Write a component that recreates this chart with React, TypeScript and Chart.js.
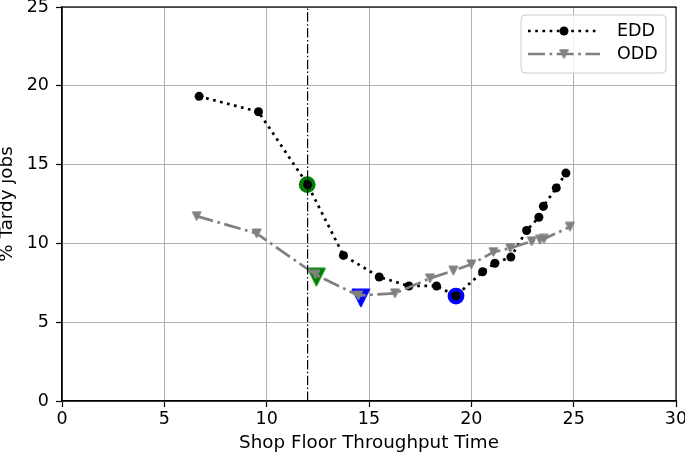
import React, { useEffect, useRef } from 'react';
import { Chart, registerables } from 'chart.js';
Chart.register(...registerables);

// ---- data ----
const seriesNames = ['EDD', 'ODD'];
const eddX = [6.7, 9.6, 12.0, 13.75, 15.5, 16.95, 18.3, 19.25, 20.55, 21.15, 21.93, 22.7, 23.3, 23.52, 24.15, 24.62];
const eddY = [19.33, 18.35, 13.73, 9.24, 7.87, 7.3, 7.3, 6.67, 8.2, 8.74, 9.13, 10.82, 11.66, 12.36, 13.52, 14.46];
const oddX = [6.58, 9.51, 12.38, 14.48, 16.27, 17.98, 19.12, 20.0, 21.08, 21.9, 22.95, 23.35, 23.55, 24.82];
const oddY = [11.73, 10.63, 8.02, 6.69, 6.83, 7.78, 8.27, 8.67, 9.45, 9.7, 10.13, 10.23, 10.28, 11.05];
const hlCircleX = [11.98, 19.25];
const hlCircleY = [13.73, 6.66];
const hlTriX = [12.43, 14.6];
const hlTriY = [7.86, 6.53];
const hlColors = ['#008000', '#0000ff'];
const refLineX = 12;
const xTicks = [0, 5, 10, 15, 20, 25, 30];
const yTicks = [0, 5, 10, 15, 20, 25];
const xTitle = 'Shop Floor Throughput Time';
const yTitle = '% Tardy jobs';

const FONT = "'DejaVu Sans', 'Liberation Sans', sans-serif";
const FS = 17.5;
const FT = 18.3;
const GRAY = '#808080';
const EDD_DASH = [2.7, 4.5];
const ODD_DASH = [17, 4.5, 2.7, 4.5];

function makeTri(size: number, color: string) {
  const c = document.createElement('canvas');
  const pad = 1;
  const s = Math.ceil(size + 2 * pad);
  c.width = s;
  c.height = s;
  const ctx = c.getContext('2d')!;
  const o = (s - size) / 2;
  ctx.fillStyle = color;
  ctx.strokeStyle = color;
  ctx.lineWidth = 1;
  ctx.beginPath();
  ctx.moveTo(o, o);
  ctx.lineTo(o + size, o);
  ctx.lineTo(o + size / 2, o + size);
  ctx.closePath();
  ctx.fill();
  ctx.stroke();
  return c;
}

export default function App() {
  const ref = useRef<HTMLCanvasElement>(null);
  useEffect(() => {
    document.body.style.margin = '0';
    const grayTri = makeTri(9, GRAY);
    const hlTris = hlColors.map((c) => makeTri(18, c));

    const decor = {
      id: 'decor',
      afterDatasetsDraw(chart: any) {
        const { ctx, chartArea: a, scales } = chart;
        const x = scales.x;
        // reference vertical line
        ctx.save();
        ctx.beginPath();
        ctx.rect(a.left, a.top, a.width, a.height);
        ctx.clip();
        const px = x.getPixelForValue(refLineX);
        ctx.setLineDash([9.5, 2.4, 1.5, 2.4]);
        ctx.lineWidth = 1.2;
        ctx.strokeStyle = '#000';
        ctx.beginPath();
        ctx.moveTo(px, a.bottom);
        ctx.lineTo(px, a.top);
        ctx.stroke();
        ctx.restore();
        // frame
        ctx.save();
        ctx.strokeStyle = '#000';
        ctx.lineWidth = 1.2;
        ctx.strokeRect(a.left, a.top, a.width, a.height);
        ctx.restore();
        // legend
        const bw = 145, bh = 58;
        const bx = a.right - 10 - bw;
        const by = a.top + 8;
        ctx.save();
        ctx.beginPath();
        const r = 4;
        ctx.moveTo(bx + r, by);
        ctx.lineTo(bx + bw - r, by);
        ctx.arcTo(bx + bw, by, bx + bw, by + r, r);
        ctx.lineTo(bx + bw, by + bh - r);
        ctx.arcTo(bx + bw, by + bh, bx + bw - r, by + bh, r);
        ctx.lineTo(bx + r, by + bh);
        ctx.arcTo(bx, by + bh, bx, by + bh - r, r);
        ctx.lineTo(bx, by + r);
        ctx.arcTo(bx, by, bx + r, by, r);
        ctx.closePath();
        ctx.fillStyle = 'rgba(255,255,255,0.8)';
        ctx.fill();
        ctx.strokeStyle = '#cccccc';
        ctx.lineWidth = 1;
        ctx.stroke();
        const rows = [by + 16, by + 39];
        const lx0 = bx + 7, lx1 = bx + 79, lm = (lx0 + lx1) / 2;
        // EDD
        ctx.strokeStyle = '#000';
        ctx.lineWidth = 2.7;
        ctx.setLineDash(EDD_DASH);
        ctx.beginPath();
        ctx.moveTo(lx0, rows[0]);
        ctx.lineTo(lx1, rows[0]);
        ctx.stroke();
        ctx.setLineDash([]);
        ctx.fillStyle = '#000';
        ctx.beginPath();
        ctx.arc(lm, rows[0], 4.5, 0, Math.PI * 2);
        ctx.fill();
        // ODD
        ctx.strokeStyle = GRAY;
        ctx.setLineDash(ODD_DASH);
        ctx.beginPath();
        ctx.moveTo(lx0, rows[1]);
        ctx.lineTo(lx1, rows[1]);
        ctx.stroke();
        ctx.setLineDash([]);
        ctx.drawImage(grayTri, lm - grayTri.width / 2, rows[1] - grayTri.height / 2);
        ctx.fillStyle = '#000';
        ctx.font = `${FS}px ${FONT}`;
        ctx.textBaseline = 'middle';
        ctx.textAlign = 'left';
        ctx.fillText(seriesNames[0], bx + 96, rows[0]);
        ctx.fillText(seriesNames[1], bx + 96, rows[1]);
        ctx.restore();
      },
    };

    const chart = new Chart(ref.current!, {
      type: 'scatter',
      data: {
        datasets: [
          {
            label: seriesNames[1],
            data: oddX.map((v, i) => ({ x: v, y: oddY[i] })),
            showLine: true,
            borderColor: GRAY,
            borderWidth: 2.7,
            borderDash: ODD_DASH,
            pointStyle: grayTri as any,
            pointRadius: 5,
            order: 0,
          },
          {
            label: seriesNames[0],
            data: eddX.map((v, i) => ({ x: v, y: eddY[i] })),
            showLine: true,
            borderColor: '#000',
            borderWidth: 2.7,
            borderDash: EDD_DASH,
            pointStyle: 'circle',
            pointRadius: 4.5,
            pointBorderWidth: 0,
            pointBackgroundColor: '#000',
            order: 1,
          },
          {
            label: 'hlTri',
            data: hlTriX.map((v, i) => ({ x: v, y: hlTriY[i] })),
            showLine: false,
            pointStyle: hlTris as any,
            pointRadius: 10,
            order: 2,
          },
          {
            label: 'hlCircle',
            data: hlCircleX.map((v, i) => ({ x: v, y: hlCircleY[i] })),
            showLine: false,
            pointStyle: 'circle',
            pointRadius: 8.4,
            pointBorderWidth: 0,
            pointBackgroundColor: hlColors,
            order: 3,
          },
        ],
      },
      options: {
        animation: false,
        responsive: false,
        events: [],
        layout: { autoPadding: false, padding: { top: 7, right: 9, left: 0, bottom: 0 } },
        plugins: { legend: { display: false }, tooltip: { enabled: false } },
        scales: {
          x: {
            type: 'linear',
            min: xTicks[0],
            max: xTicks[xTicks.length - 1],
            afterBuildTicks: (s: any) => {
              s.ticks = xTicks.map((v) => ({ value: v }));
            },
            afterFit: (s: any) => {
              s.height = 55;
              s.paddingLeft = 0;
              s.paddingRight = 0;
            },
            ticks: { font: { family: FONT, size: FS }, color: '#000', padding: 2, maxRotation: 0 },
            grid: { color: '#b0b0b0', lineWidth: 1, tickColor: '#000', tickLength: 6, tickWidth: 1.2 },
            border: { color: '#000', width: 1.2 },
            title: {
              display: true,
              text: xTitle,
              color: '#000',
              font: { family: FONT, size: FT, lineHeight: 1.2 },
              padding: { top: 0, bottom: 1.5 },
            },
          },
          y: {
            type: 'linear',
            min: yTicks[0],
            max: yTicks[yTicks.length - 1],
            afterBuildTicks: (s: any) => {
              s.ticks = yTicks.map((v) => ({ value: v }));
            },
            afterFit: (s: any) => {
              s.width = 62;
              s.paddingTop = 0;
              s.paddingBottom = 0;
            },
            ticks: { font: { family: FONT, size: FS }, color: '#000', padding: 7 },
            grid: { color: '#b0b0b0', lineWidth: 1, tickColor: '#000', tickLength: 6, tickWidth: 1.2 },
            border: { color: '#000', width: 1.2 },
            title: {
              display: true,
              text: yTitle,
              color: '#000',
              font: { family: FONT, size: FT, lineHeight: 0.8 },
              padding: { top: 0, bottom: 0 },
            },
          },
        },
      },
      plugins: [decor],
    } as any);
    return () => chart.destroy();
  }, []);
  return (
    <div style={{ width: 685, height: 456 }}>
      <canvas ref={ref} width={685} height={456} style={{ display: 'block' }} />
    </div>
  );
}
